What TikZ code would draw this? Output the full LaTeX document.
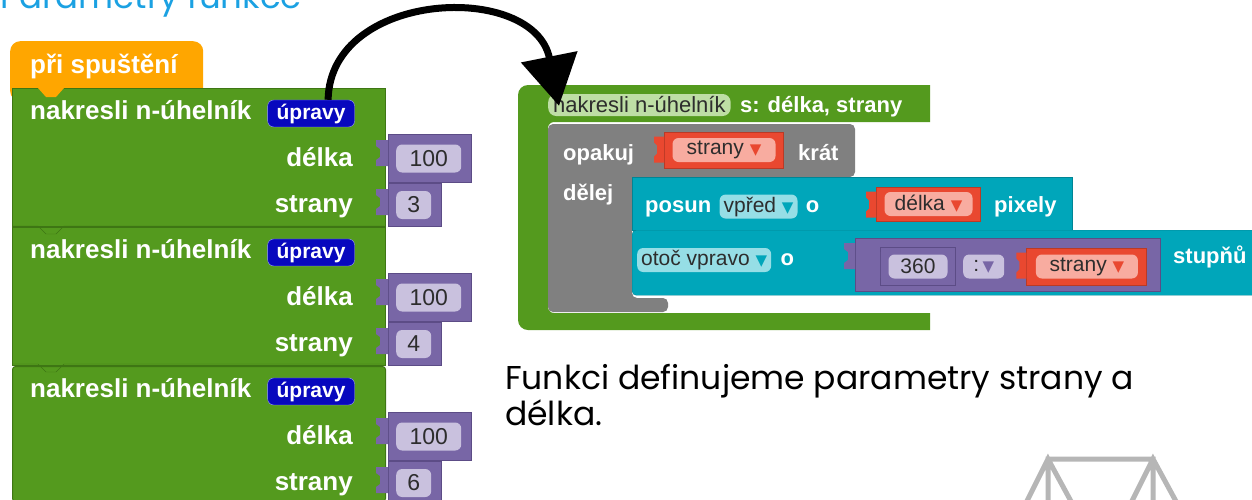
\documentclass[tikz,border=0pt]{standalone}
\usepackage{fontspec}
\usetikzlibrary{positioning,arrows.meta}
\newfontfamily\blokfont{Liberation Sans}
\newfontfamily\popisfont{Poppins}
\newfontfamily\symfont{DejaVu Sans}
\definecolor{zelena}{RGB}{84,154,30}
\definecolor{zelenaTm}{RGB}{62,118,20}
\definecolor{zelenaSv}{RGB}{190,222,165}
\definecolor{oranzova}{RGB}{255,166,0}
\definecolor{fialova}{RGB}{120,102,166}
\definecolor{fialovaTm}{RGB}{92,76,134}
\definecolor{fialovaSv}{RGB}{201,193,222}
\definecolor{modra}{RGB}{8,8,190}
\definecolor{seda}{RGB}{128,128,128}
\definecolor{tyrkys}{RGB}{0,166,186}
\definecolor{tyrkysSv}{RGB}{150,222,230}
\definecolor{cervena}{RGB}{233,72,48}
\definecolor{ruzova}{RGB}{248,172,160}
\definecolor{tmava}{RGB}{45,45,45}
\definecolor{nadpis}{RGB}{27,161,226}
\definecolor{mriz}{RGB}{182,182,182}
\newcommand{\dolu}{{\symfont\fontsize{15}{15}\selectfont ▼}}
\tikzset{
	napis/.style={font=\blokfont\bfseries\fontsize{26}{26}\selectfont, text=white, inner sep=0pt},
	napis2/.style={font=\blokfont\bfseries\fontsize{22}{22}\selectfont, text=white, inner sep=0pt},
	zeleny/.style={fill=zelena, draw=zelenaTm, line width=1pt, inner sep=0pt},
	fialovy/.style={fill=fialova, draw=fialovaTm, line width=1pt, inner sep=0pt},
	cerveny/.style={fill=cervena, draw=cervena!80!black, line width=1pt, inner sep=0pt},
	upravy/.style={fill=modra, draw=blue!40, rounded corners=6, text=white, 
		font=\blokfont\bfseries\fontsize{21}{21}\selectfont, minimum height=27, inner xsep=9pt},
	cislo/.style={fill=fialovaSv, rounded corners=6, text=tmava, 
		font=\blokfont\fontsize{23}{23}\selectfont, minimum height=28, inner sep=0pt},
	promenna/.style={fill=ruzova, rounded corners=6, text=tmava, 
		font=\blokfont\fontsize{21}{21}\selectfont, minimum height=24, inner sep=0pt},
	vyber/.style={fill=tyrkysSv, rounded corners=6, text=tmava, 
		font=\blokfont\fontsize{21}{21}\selectfont, minimum height=24, inner xsep=4pt, inner ysep=0pt},
	hlavicka/.style={fill=zelenaSv, rounded corners=8, text=tmava, 
		font=\blokfont\fontsize{22}{22}\selectfont, minimum height=22, inner xsep=5pt, inner ysep=0pt},
	popis/.style={font=\popisfont\fontsize{33}{33}\selectfont, text=black, inner sep=0pt},
	sipka/.style={line width=7pt, -{Triangle[length=50pt,width=56pt]}}
}

\begin{document}
\begin{tikzpicture}[x=1pt, y=-1pt]
	\useasboundingbox (0,0) rectangle (1252,499);
	\clip (0,0) rectangle (1252,499);
	
	\node[font=\popisfont\fontsize{34}{34}\selectfont, text=nadpis, inner sep=0pt, anchor=base west] (titul) at (0,8) {Parametry funkce};
	
	% hlavni program
	\node[fill=oranzova, rounded corners=10, minimum width=193, minimum height=60, anchor=north west] (start) at (10,41) {};
	\node[zeleny, minimum width=373, minimum height=138, anchor=north west] (b1) at (12,88) {};
	\node[zeleny, minimum width=373, minimum height=138, below=0pt of b1] (b2) {};
	\node[zeleny, rounded corners=3, minimum width=373, minimum height=135, below=0pt of b2] (b3) {};
	\fill[oranzova] (38,88) -- (46,97) -- (56,97) -- (64,88) -- cycle;
	\draw[zelenaTm] (13,226) -- (38,226) -- (46,234) -- (56,234) -- (64,226) -- (384,226);
	\draw[zelenaTm] (13,364) -- (38,364) -- (46,372) -- (56,372) -- (64,364) -- (384,364);
	\node[napis, anchor=base west] (spusteni) at (30,73) {při spuštění};
	
	\node[napis, anchor=base west] (n1) at ([xshift=18pt,yshift=-31pt]b1.north west) {nakresli n-úhelník};
	\node[upravy, anchor=base west] (u1) at ([xshift=16pt]n1.base east) {úpravy};
	\node[napis, anchor=base east] (d1) at ([xshift=-33pt,yshift=-78pt]b1.north east) {délka};
	\node[napis, anchor=base east] (s1) at ([xshift=-33pt,yshift=-124pt]b1.north east) {strany};
	\node[fialovy, minimum width=83, minimum height=48, anchor=north west] (v1) at ([xshift=2pt,yshift=-46pt]b1.north east) {};
	\node[fialovy, minimum width=53, minimum height=43, anchor=north west] (w1) at (v1.south west) {};
	\node[cislo, minimum width=65, anchor=west] (c1) at ([xshift=8pt]v1.west) {100};
	\node[cislo, minimum width=35, anchor=west] (k1) at ([xshift=8pt]w1.west) {3};
	
	\node[napis, anchor=base west] (n2) at ([xshift=18pt,yshift=-31pt]b2.north west) {nakresli n-úhelník};
	\node[upravy, anchor=base west] (u2) at ([xshift=16pt]n2.base east) {úpravy};
	\node[napis, anchor=base east] (d2) at ([xshift=-33pt,yshift=-78pt]b2.north east) {délka};
	\node[napis, anchor=base east] (s2) at ([xshift=-33pt,yshift=-124pt]b2.north east) {strany};
	\node[fialovy, minimum width=83, minimum height=48, anchor=north west] (v2) at ([xshift=2pt,yshift=-46pt]b2.north east) {};
	\node[fialovy, minimum width=53, minimum height=43, anchor=north west] (w2) at (v2.south west) {};
	\node[cislo, minimum width=65, anchor=west] (c2) at ([xshift=8pt]v2.west) {100};
	\node[cislo, minimum width=35, anchor=west] (k2) at ([xshift=8pt]w2.west) {4};
	
	\node[napis, anchor=base west] (n3) at ([xshift=18pt,yshift=-31pt]b3.north west) {nakresli n-úhelník};
	\node[upravy, anchor=base west] (u3) at ([xshift=16pt]n3.base east) {úpravy};
	\node[napis, anchor=base east] (d3) at ([xshift=-33pt,yshift=-78pt]b3.north east) {délka};
	\node[napis, anchor=base east] (s3) at ([xshift=-33pt,yshift=-124pt]b3.north east) {strany};
	\node[fialovy, minimum width=83, minimum height=48, anchor=north west] (v3) at ([xshift=2pt,yshift=-46pt]b3.north east) {};
	\node[fialovy, minimum width=53, minimum height=43, anchor=north west] (w3) at (v3.south west) {};
	\node[cislo, minimum width=65, anchor=west] (c3) at ([xshift=8pt]v3.west) {100};
	\node[cislo, minimum width=35, anchor=west] (k3) at ([xshift=8pt]w3.west) {6};
	
	% zobacky hodnot
	\fill[fialova] ([yshift=-6pt]v1.north west) -- ++(-12,0) -- ++(0,6) -- ++(4,3) -- ++(0,8) -- ++(-4,3) -- ++(0,6) -- ++(12,0) -- cycle;
	\fill[fialova] ([yshift=-6pt]w1.north west) -- ++(-12,0) -- ++(0,6) -- ++(4,3) -- ++(0,8) -- ++(-4,3) -- ++(0,6) -- ++(12,0) -- cycle;
	\fill[fialova] ([yshift=-6pt]v2.north west) -- ++(-12,0) -- ++(0,6) -- ++(4,3) -- ++(0,8) -- ++(-4,3) -- ++(0,6) -- ++(12,0) -- cycle;
	\fill[fialova] ([yshift=-6pt]w2.north west) -- ++(-12,0) -- ++(0,6) -- ++(4,3) -- ++(0,8) -- ++(-4,3) -- ++(0,6) -- ++(12,0) -- cycle;
	\fill[fialova] ([yshift=-6pt]v3.north west) -- ++(-12,0) -- ++(0,6) -- ++(4,3) -- ++(0,8) -- ++(-4,3) -- ++(0,6) -- ++(12,0) -- cycle;
	\fill[fialova] ([yshift=-6pt]w3.north west) -- ++(-12,0) -- ++(0,6) -- ++(4,3) -- ++(0,8) -- ++(-4,3) -- ++(0,6) -- ++(12,0) -- cycle;
	
	% definice funkce
	\fill[zelena] (930,85) -- (930,122) [rounded corners=6] -- (548,122) -- (548,313) [sharp corners] -- (930,313) -- (930,330) [rounded corners=10] -- (518,330) -- (518,85) [sharp corners] -- cycle;
	\fill[seda] (548,124) [rounded corners=5] -- (855,124) -- (855,177) -- (632,177) -- (632,298) -- (668,298) -- (668,312) -- (548,312) -- cycle;
	\node[hlavicka, anchor=west] (hlava) at (548,105) {nakresli n-úhelník};
	\node[napis2, anchor=base west] (param) at ([xshift=9pt]hlava.base east) {s: délka, strany};
	
	\node[napis2, anchor=base west] (opakuj) at (563,160) {opakuj};
	\node[cerveny, minimum width=119, minimum height=36, anchor=west] (r1) at (664,150) {};
	\node[promenna, minimum width=103] (p1) at (r1) {strany \textcolor{cervena}{\dolu}};
	\node[napis2, anchor=base west] (krat) at ([xshift=14pt]r1.east |- opakuj.base) {krát};
	\node[napis2, anchor=base west] (delej) at (563,200) {dělej};
	
	\node[fill=tyrkys, draw=tyrkys!80!black, minimum width=440, minimum height=53, anchor=north west] (t1) at (632,177) {};
	\node[fill=tyrkys, draw=tyrkys!80!black, rounded corners=4, minimum width=640, minimum height=65, anchor=north west] (t2) at (632,230) {};
	
	\node[napis2, anchor=base west] (posun) at (645,212) {posun};
	\node[vyber, anchor=base west] (vpred) at ([xshift=8pt]posun.base east) {vpřed \textcolor{tyrkys}{\dolu}};
	\node[napis2, anchor=base west] (o1) at ([xshift=8pt]vpred.base east) {o};
	\node[cerveny, minimum width=104, minimum height=34, anchor=west] (r2) at (876,204) {};
	\node[promenna, minimum width=88] (p2) at (r2) {délka \textcolor{cervena}{\dolu}};
	\node[napis2, anchor=base west] (pixely) at ([xshift=13pt]r2.east |- posun.base) {pixely};
	
	\node[vyber, anchor=west] (otoc) at (637,260) {otoč vpravo \textcolor{tyrkys}{\dolu}};
	\node[napis2, anchor=base west] (o2) at ([xshift=9pt]otoc.base east) {o};
	\node[fialovy, minimum width=305, minimum height=53, anchor=north west] (f1) at (855,238) {};
	\node[fialovy, minimum width=75, minimum height=38, anchor=north west] (f2) at (880,247) {};
	\node[cislo, font=\blokfont\fontsize{21}{21}\selectfont, minimum width=59, minimum height=24] (c360) at (f2.center) {360};
	\node[cislo, font=\blokfont\fontsize{21}{21}\selectfont, minimum width=41, minimum height=24, anchor=west] (deleno) at ([xshift=7pt]f2.east) {:\,\textcolor{fialova}{\dolu}};
	\node[cerveny, minimum width=120, minimum height=37, anchor=west] (r3) at ([xshift=22pt]deleno.east) {};
	\node[promenna, minimum width=102] (p3) at (r3) {strany \textcolor{cervena}{\dolu}};
	\node[napis2, anchor=base west] (stupnu) at (1173,263) {stupňů};
	
	\fill[cervena] ([yshift=-5pt]r1.north west) -- ++(-10,0) -- ++(0,6) -- ++(3,3) -- ++(0,8) -- ++(-3,3) -- ++(0,6) -- ++(10,0) -- cycle;
	\fill[cervena] ([yshift=-5pt]r2.north west) -- ++(-10,0) -- ++(0,6) -- ++(3,3) -- ++(0,8) -- ++(-3,3) -- ++(0,6) -- ++(10,0) -- cycle;
	\fill[cervena] ([yshift=-5pt]r3.north west) -- ++(-10,0) -- ++(0,6) -- ++(3,3) -- ++(0,8) -- ++(-3,3) -- ++(0,6) -- ++(10,0) -- cycle;
	\fill[fialova] ([yshift=-5pt]f1.north west) -- ++(-11,0) -- ++(0,6) -- ++(4,3) -- ++(0,8) -- ++(-4,3) -- ++(0,6) -- ++(11,0) -- cycle;
	\fill[fialova] ([yshift=-5pt]f2.north west) -- ++(-8,0) -- ++(0,6) -- ++(3,3) -- ++(0,8) -- ++(-3,3) -- ++(0,6) -- ++(8,0) -- cycle;
	
	% popis
	\node[popis, anchor=base west] (popis1) at (505,389) {Funkci definujeme parametry strany a};
	\node[popis, anchor=base west] (popis2) at ([yshift=-36pt]popis1.base west) {délka.};
	
	% obrazek vpravo dole
	\draw[mriz, line width=5pt] (1025,505) -- (1048,459) -- (1073,505) (1048,505) -- (1048,459) -- (1153,459) -- (1153,505) (1130,505) -- (1153,459) -- (1178,505);
	
	% sipka
	\draw[sipka] ([xshift=17pt]u1.north) .. controls +(2,-110) and +(-25,-125) .. ([xshift=11pt,yshift=-12pt]hlava.north west);
\end{tikzpicture}
\end{document}
